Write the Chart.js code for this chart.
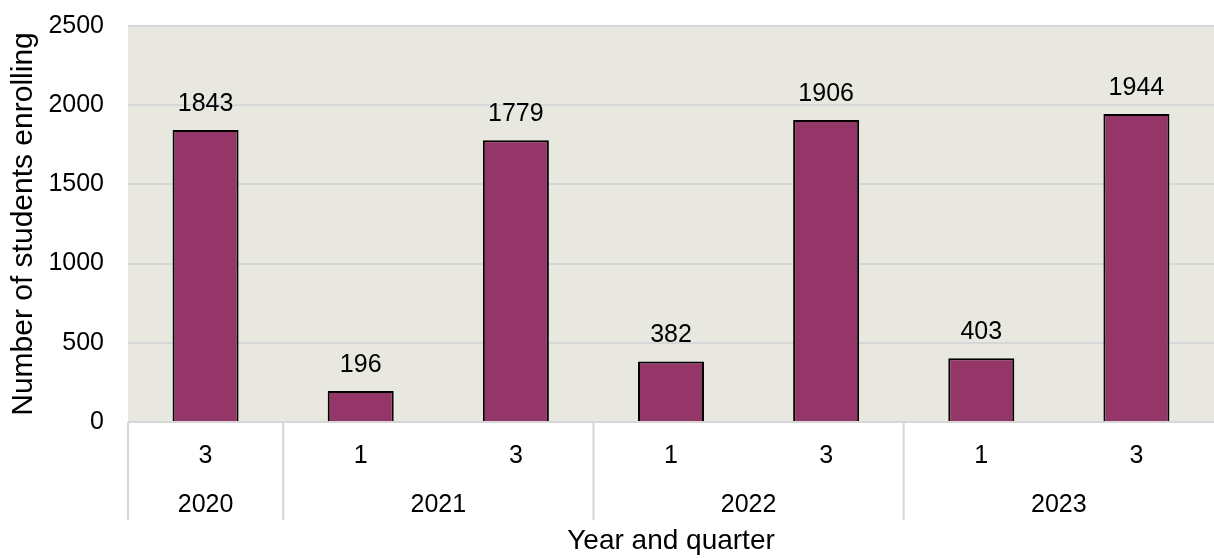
<!DOCTYPE html>
<html>
<head>
<meta charset="utf-8">
<script src="https://cdn.jsdelivr.net/npm/chart.js@4"></script>
<style>
  html, body { margin: 0; padding: 0; background: #fff; }
  #wrap { width: 1214px; height: 558px; }
</style>
</head>
<body>
<div id="wrap"><canvas id="grafico"></canvas></div>
<script>
// dados
const quarters = ["3", "1", "3", "1", "3", "1", "3"];
const years = ["2020", "2021", "2022", "2023"];
const yearSpans = [1, 2, 2, 2]; // quantos trimestres cada ano ocupa
const enrolments = [1843, 196, 1779, 382, 1906, 403, 1944];
const yTicks = [0, 500, 1000, 1500, 2000, 2500];

const FONT = "'Liberation Sans', Arial, sans-serif";
const gridColor = "#d6d6d6";
const TICK_SIZE = 25;

// fundo da área do gráfico
const plotBg = {
  id: "plotBg",
  beforeDraw(chart) {
    const { ctx, chartArea: a } = chart;
    ctx.save();
    ctx.fillStyle = "#e8e7e0";
    ctx.fillRect(a.left, a.top, a.right - a.left, a.bottom - a.top);
    ctx.restore();
  }
};

// valores por cima das barras
const barValues = {
  id: "barValues",
  afterDatasetsDraw(chart) {
    const { ctx } = chart;
    const meta = chart.getDatasetMeta(0);
    ctx.save();
    ctx.font = TICK_SIZE + "px " + FONT;
    ctx.fillStyle = "#000";
    ctx.textAlign = "center";
    ctx.textBaseline = "middle";
    meta.data.forEach((bar, i) => {
      ctx.fillText(String(enrolments[i]), bar.x, bar.y - 26);
    });
    ctx.restore();
  }
};

// anos agrupados e separadores no eixo x
const yearAxis = {
  id: "yearAxis",
  afterDraw(chart) {
    const { ctx, chartArea: a } = chart;
    const x = chart.scales.x;
    const step = x.getPixelForValue(1) - x.getPixelForValue(0);
    ctx.save();
    ctx.strokeStyle = gridColor;
    ctx.lineWidth = 2;
    ctx.font = TICK_SIZE + "px " + FONT;
    ctx.fillStyle = "#000";
    ctx.textAlign = "center";
    ctx.textBaseline = "middle";
    let start = 0;
    years.forEach((y, i) => {
      const end = start + yearSpans[i] - 1;
      const left = x.getPixelForValue(start) - step / 2;
      const cx = (x.getPixelForValue(start) + x.getPixelForValue(end)) / 2;
      ctx.beginPath();
      ctx.moveTo(left, a.bottom);
      ctx.lineTo(left, a.bottom + 98);
      ctx.stroke();
      ctx.fillText(y, cx, a.bottom + 83);
      start = end + 1;
    });
    ctx.restore();
  }
};

new Chart(document.getElementById("grafico"), {
  type: "bar",
  data: {
    labels: quarters,
    datasets: [{
      data: enrolments,
      backgroundColor: "#943668",
      borderColor: "#000",
      borderWidth: 2,
      barPercentage: 0.851,
      categoryPercentage: 0.5
    }]
  },
  options: {
    responsive: true,
    maintainAspectRatio: false,
    animation: false,
    layout: { padding: { top: 26, right: 0, bottom: 0, left: 0 } },
    plugins: {
      legend: { display: false },
      tooltip: { enabled: false }
    },
    scales: {
      x: {
        grid: { display: false, drawTicks: false },
        border: { display: false },
        ticks: {
          color: "#000",
          font: { family: FONT, size: TICK_SIZE },
          padding: 19
        },
        afterFit(scale) { scale.height = 136; },
        title: {
          display: true,
          text: "Year and quarter",
          color: "#000",
          font: { family: FONT, size: 28 },
          padding: { top: 0, bottom: 0 }
        }
      },
      y: {
        min: 0,
        max: 2500,
        afterBuildTicks(scale) { scale.ticks = yTicks.map(v => ({ value: v })); },
        afterFit(scale) {
          scale.width = 128;
          scale.paddingTop = 0;
          scale.paddingBottom = 0;
        },
        grid: { color: gridColor, lineWidth: 2, drawTicks: false },
        border: { display: false },
        ticks: {
          color: "#000",
          font: { family: FONT, size: TICK_SIZE },
          padding: 24,
          callback: v => String(v)
        },
        title: {
          display: true,
          text: "Number of students enrolling",
          color: "#000",
          font: { family: FONT, size: 30 },
          padding: { top: 6, bottom: 0 }
        }
      }
    }
  },
  plugins: [plotBg, barValues, yearAxis]
});
</script>
</body>
</html>
